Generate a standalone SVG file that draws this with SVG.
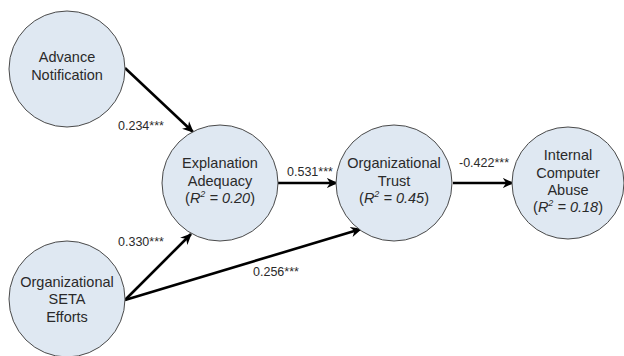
<svg xmlns="http://www.w3.org/2000/svg" width="624" height="356" viewBox="0 0 624 356">
<style>
.node circle{fill:#dfe8f2;stroke:#4a4a4a;stroke-width:1}
.lbl{font-family:"Liberation Sans",Arial,sans-serif;font-size:14.5px;fill:#2a2a2a;text-anchor:middle}
.coef{font-family:"Liberation Sans",Arial,sans-serif;font-size:12.5px;fill:#2a2a2a}
.conn line{stroke:#000;stroke-width:2.6;marker-end:url(#ah)}
.it{font-style:italic}
</style>
<defs>
<marker id="ah" viewBox="0 0 10 10" refX="9" refY="5" markerWidth="4.4" markerHeight="4.4" orient="auto" markerUnits="strokeWidth">
<path d="M0,0.5 L10,5 L0,9.5 L3,5 Z" fill="#000"/>
</marker>
</defs>
<rect width="624" height="356" fill="#fff"/>
<g class="conn">
<line x1="125" y1="68" x2="193" y2="132"/>
<line x1="125" y1="300" x2="191" y2="234"/>
<line x1="125" y1="300" x2="361" y2="229"/>
<line x1="278" y1="183" x2="337" y2="183"/>
<line x1="453" y1="183" x2="513" y2="183"/>
</g>
<g id="n-advance" class="node">
<circle cx="67" cy="69" r="58"/>
<text class="lbl" x="67" y="62">Advance</text>
<text class="lbl" x="67" y="80">Notification</text>
</g>
<g id="n-explanation" class="node">
<circle cx="220" cy="183" r="58"/>
<text class="lbl" x="220" y="168">Explanation</text>
<text class="lbl" x="220" y="186">Adequacy</text>
<text class="lbl" x="220" y="203">(<tspan class="it">R</tspan><tspan class="it" font-size="9" dy="-6">2</tspan><tspan class="it" dy="6"> = 0.20</tspan>)</text>
</g>
<g id="n-trust" class="node">
<circle cx="394" cy="183" r="58"/>
<text class="lbl" x="394" y="168">Organizational</text>
<text class="lbl" x="394" y="186">Trust</text>
<text class="lbl" x="394" y="203">(<tspan class="it">R</tspan><tspan class="it" font-size="9" dy="-6">2</tspan><tspan class="it" dy="6"> = 0.45</tspan>)</text>
</g>
<g id="n-abuse" class="node">
<circle cx="568" cy="183" r="56"/>
<text class="lbl" x="568" y="160">Internal</text>
<text class="lbl" x="568" y="178">Computer</text>
<text class="lbl" x="568" y="195">Abuse</text>
<text class="lbl" x="568" y="212">(<tspan class="it">R</tspan><tspan class="it" font-size="9" dy="-6">2</tspan><tspan class="it" dy="6"> = 0.18</tspan>)</text>
</g>
<g id="n-seta" class="node">
<circle cx="67" cy="299" r="58"/>
<text class="lbl" x="67" y="287">Organizational</text>
<text class="lbl" x="67" y="304">SETA</text>
<text class="lbl" x="67" y="322">Efforts</text>
</g>
<g id="labels">
<text class="coef" x="118" y="130">0.234***</text>
<text class="coef" x="287" y="176">0.531***</text>
<text class="coef" x="459" y="167">-0.422***</text>
<text class="coef" x="118" y="246">0.330***</text>
<text class="coef" x="253" y="276">0.256***</text>
</g>
</svg>
